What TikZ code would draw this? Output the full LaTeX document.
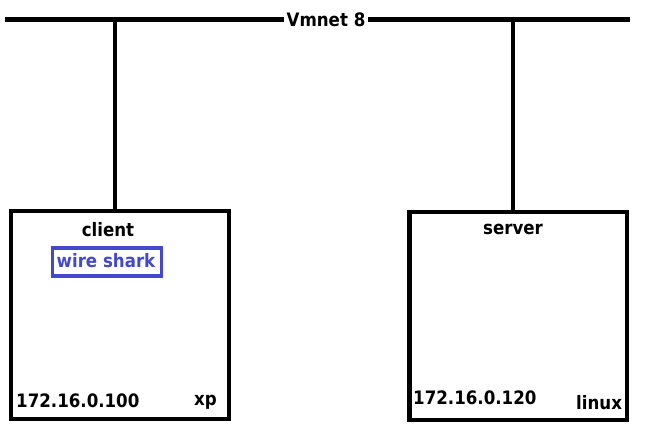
\documentclass[tikz,border=0pt]{standalone}
\usepackage{fontspec}
\setmainfont{DejaVu Sans Condensed}
\usetikzlibrary{positioning}
\definecolor{sharkblue}{RGB}{68,72,204}

\begin{document}
\begin{tikzpicture}[
				x=1pt, y=-1pt,
				every node/.style={font=\fontsize{18.5}{21}\selectfont\bfseries, inner sep=0pt},
				hostbox/.style={draw, line width=4.5pt, minimum width=218pt, minimum height=208pt},
				wire/.style={line width=4.5pt}
				]
				\useasboundingbox (0,0) rectangle (646,430);
				\pgfmathsetmacro{\BusLevel}{20}
				% network bus
				\coordinate (BusWest) at (5,\BusLevel);
				\coordinate (BusEast) at (630,\BusLevel);
				\coordinate (ClientTap) at (115,\BusLevel);
				\coordinate (ServerTap) at (513,\BusLevel);
				\draw [line width=5pt] (BusWest) -- (BusEast);
				\node [fill=white, inner xsep=3pt, inner ysep=2pt] (vmnet) at (326,\BusLevel) {Vmnet 8};
				% hosts
				\node [hostbox] (client) at (119.75,315) {};
				\node [hostbox, minimum width=217.5pt] (server) at (518.25,316) {};
				\draw [wire] (ClientTap) -- (ClientTap |- client.north);
				\draw [wire] (ServerTap) -- (ServerTap |- server.north);
				% labels
				\node [anchor=base] (clientname) at (108,237) {client};
				\node [draw=sharkblue, line width=3.5pt, minimum width=109pt, minimum height=28pt] (wireshark) at (107,262) {};
				\node [anchor=base, text=sharkblue] (wiresharktext) at (106,268) {wire shark};
				\node [anchor=base west] (clientip) at (16,408) {172.16.0.100};
				\node [anchor=base west] (clientos) at (194,406) {xp};
				\node [anchor=base] (servername) at (513,235) {server};
				\node [anchor=base west] (serverip) at (413,405) {172.16.0.120};
				\node [anchor=base west] (serveros) at (576,410) {linux};
			\end{tikzpicture}
\end{document}
